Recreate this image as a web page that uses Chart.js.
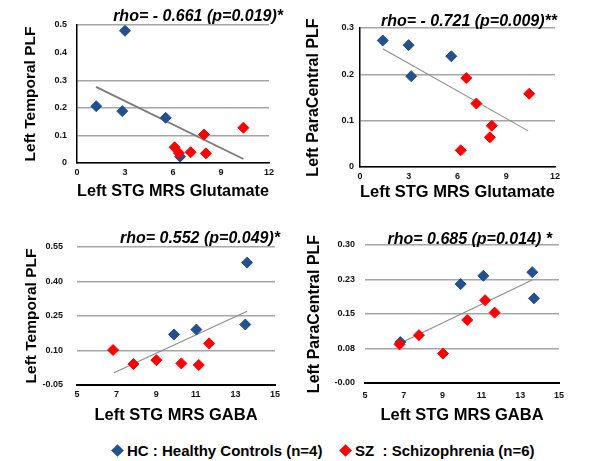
<!DOCTYPE html>
<html><head><meta charset="utf-8">
<script src="https://cdn.jsdelivr.net/npm/chart.js@4.4.0/dist/chart.umd.min.js"></script>
<style>
html,body{margin:0;padding:0;background:#fff;}
body{width:594px;height:461px;overflow:hidden;position:relative;font-family:"Liberation Sans",Arial,sans-serif;}
.box{position:absolute;width:297px;height:215px;}
.lg{position:absolute;top:442px;height:18px;line-height:18px;font-weight:bold;font-size:15px;color:#000;white-space:pre;}
.dia{position:absolute;top:446px;width:9px;height:9px;transform:rotate(45deg);}
</style></head><body>
<div class="box" style="left:0;top:0"><canvas id="c1" width="297" height="215"></canvas></div>
<div class="box" style="left:297px;top:0"><canvas id="c2" width="297" height="215"></canvas></div>
<div class="box" style="left:0;top:225px"><canvas id="c3" width="297" height="215"></canvas></div>
<div class="box" style="left:297px;top:225px"><canvas id="c4" width="297" height="215"></canvas></div>
<div class="dia" style="left:113px;background:#23508F"></div>
<div class="lg" id="lg1" style="left:127px"></div>
<div class="dia" style="left:341px;background:#FF0000"></div>
<div class="lg" id="lg2" style="left:355px"></div>
<script>
// ---- data ----
const legendLabels = ['HC : Healthy Controls (n=4)', 'SZ  : Schizophrenia (n=6)'];
const rhoTexts = ['rho= - 0.661 (p=0.019)*', 'rho= - 0.721 (p=0.009)**', 'rho= 0.552 (p=0.049)*', 'rho= 0.685 (p=0.014) *'];
const xTitles = ['Left STG MRS Glutamate', 'Left STG MRS Glutamate', 'Left STG MRS GABA', 'Left STG MRS GABA'];
const yTitles = ['Left Temporal PLF', 'Left ParaCentral PLF', 'Left Temporal PLF', 'Left ParaCentral PLF'];

// Panel 1: Glutamate vs Left Temporal PLF
const p1HcX = [1.2, 3.0, 2.83, 5.54, 6.44];
const p1HcY = [0.206, 0.479, 0.188, 0.164, 0.023];
const p1SzX = [6.1, 6.37, 7.1, 7.94, 8.06, 10.4];
const p1SzY = [0.057, 0.036, 0.039, 0.103, 0.035, 0.128];
const p1TrendX = [1.19, 10.4];
const p1TrendY = [0.276, 0.0145];
const p1XTicks = ['0', '3', '6', '9', '12'];
const p1YTicks = ['0', '0.1', '0.2', '0.3', '0.4', '0.5'];

// Panel 2: Glutamate vs Left ParaCentral PLF
const p2HcX = [1.40, 2.99, 3.15, 5.62];
const p2HcY = [0.273, 0.263, 0.196, 0.239];
const p2SzX = [6.54, 7.16, 8.11, 7.99, 6.2, 10.41];
const p2SzY = [0.192, 0.137, 0.089, 0.064, 0.036, 0.158];
const p2TrendX = [1.40, 10.35];
const p2TrendY = [0.255, 0.078];
const p2XTicks = ['0', '3', '6', '9', '12'];
const p2YTicks = ['0', '0.1', '0.2', '0.3'];

// Panel 3: GABA vs Left Temporal PLF
const p3HcX = [9.9, 11.03, 13.59, 13.5];
const p3HcY = [0.170, 0.191, 0.482, 0.213];
const p3SzX = [6.82, 7.85, 9.01, 10.27, 11.15, 11.67];
const p3SzY = [0.102, 0.041, 0.058, 0.044, 0.037, 0.131];
const p3TrendX = [6.87, 13.59];
const p3TrendY = [0.003, 0.271];
const p3XTicks = ['5', '7', '9', '11', '13', '15'];
const p3YTicks = ['-0.05', '0.10', '0.25', '0.40', '0.55'];

// Panel 4: GABA vs Left ParaCentral PLF
const p4HcX = [9.93, 11.1, 13.62, 13.71, 6.82];
const p4HcY = [0.215, 0.233, 0.241, 0.184, 0.089];
const p4SzX = [6.78, 7.78, 9.02, 10.27, 11.19, 11.68];
const p4SzY = [0.084, 0.104, 0.064, 0.137, 0.180, 0.153];
const p4TrendX = [6.78, 13.62];
const p4TrendY = [0.086, 0.224];
const p4XTicks = ['5', '7', '9', '11', '13', '15'];
const p4YTicks = ['-0.00', '0.08', '0.15', '0.23', '0.30'];

// ---- rendering ----
document.getElementById('lg1').textContent = legendLabels[0];
document.getElementById('lg2').textContent = legendLabels[1];

const BLUE = '#23508F', RED = '#FF0000';
const pts = (xs, ys) => xs.map((x, i) => ({x: x, y: ys[i]}));

const rhoPlugin = {
  id: 'rho',
  afterDraw(chart, args, o) {
    const ctx = chart.ctx;
    ctx.save();
    ctx.font = 'italic bold 16px "Liberation Sans", Arial, sans-serif';
    ctx.fillStyle = '#000';
    ctx.textAlign = 'right';
    ctx.textBaseline = 'middle';
    ctx.fillText(o.text, o.x, o.y);
    ctx.restore();
  }
};

function panel(id, p) {
  new Chart(document.getElementById(id), {
    type: 'scatter',
    data: {
      datasets: [
        {data: pts(p.szX, p.szY), backgroundColor: RED, borderColor: RED, pointStyle: 'rectRot', pointRadius: 5.5, pointBorderWidth: 1, order: 0},
        {data: pts(p.hcX, p.hcY), backgroundColor: BLUE, borderColor: BLUE, pointStyle: 'rectRot', pointRadius: 5.5, pointBorderWidth: 1, order: 1},
        {data: pts(p.trX, p.trY), showLine: true, pointRadius: 0, borderColor: p.trColor, borderWidth: p.trWidth, borderDash: p.trDash, fill: false, order: 2}
      ]
    },
    options: {
      responsive: false, animation: false, events: [],
      layout: {padding: p.pad},
      plugins: {legend: {display: false}, tooltip: {enabled: false}, title: {display: false},
        rho: {text: p.rho, x: p.rhoX, y: p.rhoY}},
      scales: {
        x: {
          type: 'linear', min: p.xMin, max: p.xMax,
          afterFit: s => { s.height = p.xH; },
          ticks: {stepSize: p.xStep, padding: p.xTickPad, color: '#111', font: {size: 9, weight: 'bold', family: '"Liberation Sans", Arial'},
            callback: (v, i) => p.xTicks[i]},
          grid: {display: false, drawTicks: false},
          border: {display: true, color: '#000', width: p.xBorderW},
          title: {display: true, text: p.xTitle, color: '#000', font: {size: 16.5, weight: 'bold', family: '"Liberation Sans", Arial'}, padding: {top: 0, bottom: p.xTitlePb}}
        },
        y: {
          type: 'linear', min: p.yMin, max: p.yMax,
          afterFit: s => { s.width = p.yW; },
          ticks: {stepSize: p.yStep, padding: p.yTickPad, color: '#111', font: {size: 9, weight: 'bold', family: '"Liberation Sans", Arial'},
            callback: (v, i) => p.yTicks[i]},
          grid: {drawTicks: false, lineWidth: 1.4, color: ctx => (p.skipGrid !== undefined && ctx.index === p.skipGrid) ? 'rgba(0,0,0,0)' : '#A6A6A6'},
          border: {display: p.yBorder, color: '#000', width: 1.5},
          title: {display: true, text: p.yTitle, color: '#000', font: {size: p.yTitleSize, weight: 'bold', family: '"Liberation Sans", Arial'}, padding: {top: p.yTitlePt, bottom: 0}}
        }
      }
    },
    plugins: [rhoPlugin]
  });
}

panel('c1', {hcX: p1HcX, hcY: p1HcY, szX: p1SzX, szY: p1SzY, trX: p1TrendX, trY: p1TrendY,
  trColor: '#7A7A7A', trWidth: 1.8, trDash: [],
  xMin: 0, xMax: 12, xStep: 3, yMin: 0, yMax: 0.5, yStep: 0.1, xTicks: p1XTicks, yTicks: p1YTicks, skipGrid: 4,
  pad: {left: 0, right: 28, top: 25, bottom: 0}, xH: 52, yW: 77, xTickPad: 4, yTickPad: 10,
  xBorderW: 1.5, yBorder: true, xTitle: xTitles[0], yTitle: yTitles[0], xTitlePb: 13.4, yTitlePt: 21.7, yTitleSize: 15.5,
  rho: rhoTexts[0], rhoX: 283, rhoY: 17});

panel('c2', {hcX: p2HcX, hcY: p2HcY, szX: p2SzX, szY: p2SzY, trX: p2TrendX, trY: p2TrendY,
  trColor: '#8C8C8C', trWidth: 1.1, trDash: [],
  xMin: 0, xMax: 12, xStep: 3, yMin: 0, yMax: 0.3, yStep: 0.1, xTicks: p2XTicks, yTicks: p2YTicks,
  pad: {left: 0, right: 39, top: 28, bottom: 0}, xH: 48, yW: 63, xTickPad: 4, yTickPad: 6,
  xBorderW: 1.5, yBorder: true, xTitle: xTitles[1], yTitle: yTitles[1], xTitlePb: 12.4, yTitlePt: 7.4, yTitleSize: 16,
  rho: rhoTexts[1], rhoX: 260, rhoY: 21.7});

panel('c3', {hcX: p3HcX, hcY: p3HcY, szX: p3SzX, szY: p3SzY, trX: p3TrendX, trY: p3TrendY,
  trColor: '#8C8C8C', trWidth: 1.1, trDash: [],
  xMin: 5, xMax: 15, xStep: 2, yMin: -0.05, yMax: 0.55, yStep: 0.15, xTicks: p3XTicks, yTicks: p3YTicks,
  pad: {left: 0, right: 22, top: 22, bottom: 0}, xH: 55, yW: 77, xTickPad: 4, yTickPad: 14,
  xBorderW: 2, yBorder: false, xTitle: xTitles[2], yTitle: yTitles[2], xTitlePb: 14.5, yTitlePt: 22.7, yTitleSize: 15.5,
  rho: rhoTexts[2], rhoX: 280, rhoY: 13.3});

panel('c4', {hcX: p4HcX, hcY: p4HcY, szX: p4SzX, szY: p4SzY, trX: p4TrendX, trY: p4TrendY,
  trColor: '#8C8C8C', trWidth: 1.1, trDash: [],
  xMin: 5, xMax: 15, xStep: 2, yMin: 0, yMax: 0.3, yStep: 0.075, xTicks: p4XTicks, yTicks: p4YTicks,
  pad: {left: 0, right: 35, top: 20, bottom: 0}, xH: 57, yW: 68, xTickPad: 7, yTickPad: 10,
  xBorderW: 2, yBorder: false, xTitle: xTitles[3], yTitle: yTitles[3], xTitlePb: 14.5, yTitlePt: 8.4, yTitleSize: 16,
  rho: rhoTexts[3], rhoX: 255, rhoY: 15});
</script>
</body></html>
